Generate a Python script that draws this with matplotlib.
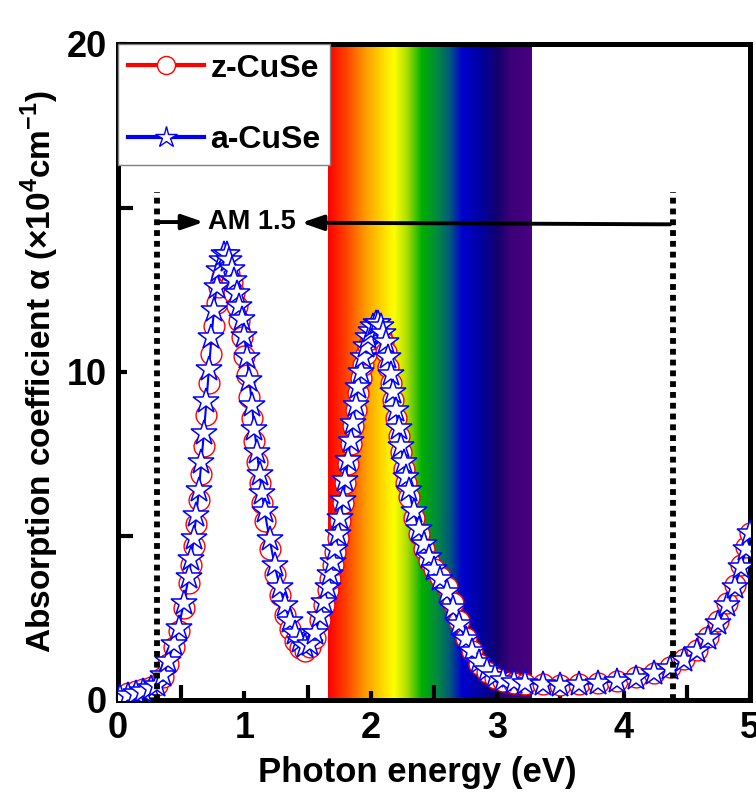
import numpy as np
import matplotlib
matplotlib.use("Agg")
import matplotlib.pyplot as plt
from matplotlib.colors import LinearSegmentedColormap
from matplotlib.lines import Line2D

plt.rcParams['font.family'] = ['Liberation Sans', 'DejaVu Sans']
plt.rcParams['font.weight'] = 'bold'
plt.rcParams['mathtext.fontset'] = 'custom'
plt.rcParams['mathtext.rm'] = 'Liberation Sans:bold'
plt.rcParams['mathtext.bf'] = 'Liberation Sans:bold'

# photon energy (eV)
energy = [0.02, 0.08, 0.14, 0.20, 0.26, 0.31, 0.36, 0.40, 0.44, 0.48, 0.52,
          0.56, 0.58, 0.60, 0.62, 0.64, 0.66, 0.68, 0.70, 0.72, 0.74, 0.76, 0.78,
          0.80, 0.82, 0.84, 0.86, 0.88, 0.90, 0.92, 0.94, 0.96, 0.98, 1.00, 1.02,
          1.04, 1.06, 1.08, 1.10, 1.12, 1.14, 1.16,
          1.20, 1.24, 1.28, 1.32, 1.36, 1.40, 1.44, 1.48, 1.52, 1.56, 1.60, 1.63,
          1.66, 1.68, 1.70, 1.72, 1.74, 1.76, 1.78, 1.80, 1.82, 1.84, 1.86, 1.88,
          1.90, 1.92, 1.94, 1.96, 1.98, 2.00, 2.02, 2.04, 2.06, 2.08, 2.10, 2.12,
          2.14, 2.16, 2.18, 2.20, 2.22, 2.24, 2.26, 2.28, 2.30,
          2.34, 2.38, 2.42, 2.46, 2.50,
          2.55, 2.60, 2.65, 2.70, 2.75, 2.80, 2.86, 2.92, 2.98, 3.05, 3.13, 3.22,
          3.36, 3.50, 3.65, 3.80, 3.95, 4.10, 4.24, 4.37, 4.48, 4.58, 4.67, 4.75,
          4.82, 4.88, 4.93, 4.97, 5.00]

# absorption coefficient (x10^4 cm^-1)
z_cuse = [0.12, 0.20, 0.28, 0.33, 0.38, 0.45, 0.70, 1.10, 1.60, 2.10, 2.80,
          3.55, 4.10, 4.70, 5.35, 6.10, 6.90, 7.75, 8.70, 9.65, 10.55, 11.4, 12.1,
          12.6, 12.9, 13.1, 13.1, 13.0, 12.75, 12.4, 12.0, 11.55, 11.05, 10.5, 9.90,
          9.25, 8.60, 7.90, 7.25, 6.60, 6.00, 5.45,
          4.60, 3.85, 3.20, 2.60, 2.15, 1.80, 1.58, 1.50, 1.60, 1.90, 2.45, 2.90,
          3.35, 3.70, 4.10, 4.50, 4.95, 5.45, 6.00, 6.60, 7.20, 7.80, 8.35, 8.85,
          9.35, 9.80, 10.2, 10.55, 10.8, 11.0, 11.15, 11.2, 11.2, 11.1, 10.9, 10.6,
          10.15, 9.65, 9.15, 8.60, 8.05, 7.55, 7.05, 6.60, 6.20,
          5.55, 5.05, 4.60, 4.25, 4.00,
          3.75, 3.45, 2.95, 2.40, 1.90, 1.50, 1.10, 0.85, 0.68, 0.58, 0.53, 0.50,
          0.48, 0.47, 0.49, 0.52, 0.59, 0.69, 0.83, 1.00, 1.25, 1.52, 1.92, 2.40,
          2.95, 3.50, 4.10, 4.65, 5.10]

a_cuse = [0.10, 0.15, 0.22, 0.28, 0.35, 0.45, 0.75, 1.20, 1.70, 2.20, 2.95,
          3.75, 4.30, 4.95, 5.65, 6.40, 7.25, 8.15, 9.10, 10.1, 11.05, 11.9, 12.6,
          13.1, 13.4, 13.6, 13.6, 13.4, 13.15, 12.8, 12.4, 12.0, 11.6, 11.1, 10.45,
          9.75, 9.00, 8.25, 7.55, 6.90, 6.30, 5.75,
          4.90, 4.10, 3.45, 2.90, 2.40, 2.05, 1.80, 1.65, 1.72, 2.05, 2.55, 3.00,
          3.45, 3.85, 4.20, 4.60, 5.05, 5.55, 6.10, 6.70, 7.30, 7.90, 8.45, 9.00,
          9.55, 10.0, 10.45, 10.8, 11.05, 11.25, 11.4, 11.5, 11.5, 11.4, 11.2, 10.9,
          10.45, 9.95, 9.40, 8.85, 8.30, 7.75, 7.25, 6.80, 6.40,
          5.75, 5.20, 4.75, 4.35, 4.00,
          3.70, 3.30, 2.80, 2.30, 1.85, 1.50, 1.15, 0.90, 0.72, 0.62, 0.56, 0.52,
          0.48, 0.47, 0.48, 0.51, 0.58, 0.68, 0.81, 0.98, 1.22, 1.50, 1.90, 2.35,
          2.90, 3.45, 4.05, 4.60, 5.10]

# visible spectrum band
band = (1.66, 3.27)
band_pos = [1.66, 1.80, 1.95, 2.10, 2.18, 2.28, 2.40, 2.52, 2.62, 2.72, 2.87, 3.00, 3.10, 3.27]
band_col = ['#ff0000', '#ff4000', '#ff9900', '#ffdd00', '#ffff00', '#b0e000', '#00b000',
            '#008a40', '#005a7a', '#0000d0', '#0000a0', '#14006e', '#3c0078', '#480080']

am_left, am_right = 0.31, 4.39
am_top = 15.5

fig = plt.figure(figsize=(7.56, 7.99), dpi=100)
ax = fig.add_axes([0.156, 0.124, 0.836, 0.821])

stops = [(p - band[0]) / (band[1] - band[0]) for p in band_pos]
cmap = LinearSegmentedColormap.from_list('vis', list(zip(stops, band_col)))
grad = np.linspace(0, 1, 512).reshape(1, -1)
ax.imshow(grad, cmap=cmap, aspect='auto', extent=[band[0], band[1], 0, 20], zorder=0)

ax.plot(energy, z_cuse, color='red', lw=1.5, marker='o', ms=15, mfc='white',
        mec='red', mew=1.0, zorder=2)
ax.plot(energy, a_cuse, color='blue', lw=1.5, marker='*', ms=19, mfc='white',
        mec='blue', mew=1.1, zorder=3)

# AM 1.5 range
for xv in (am_left, am_right):
    ax.plot([xv, xv], [0, am_top], color='black', lw=4.2, ls=(0, (1, 0.85)), zorder=5)
ax.annotate('', xy=(0.70, 14.57), xytext=(am_left, 14.57),
            arrowprops=dict(arrowstyle='-|>,head_length=1.3,head_width=0.45', color='black', lw=2.8),
            zorder=6)
ax.annotate('', xy=(1.43, 14.55), xytext=(am_right, 14.5),
            arrowprops=dict(arrowstyle='-|>,head_length=1.3,head_width=0.45', color='black', lw=2.8),
            zorder=6)
ax.text(1.06, 14.57, 'AM 1.5', fontsize=19.5, fontweight='bold', ha='center', va='center', zorder=6)

ax.set_xlim(0, 5)
ax.set_ylim(0, 20)
ax.set_xticks([0, 1, 2, 3, 4, 5])
ax.set_xticks([0.5, 1.5, 2.5, 3.5, 4.5], minor=True)
ax.set_yticks([0, 10, 20])
ax.set_yticks([5, 15], minor=True)
ax.tick_params(which='both', direction='in', width=3, labelsize=26, top=False, right=False)
ax.tick_params(which='major', length=6.5, pad=8)
ax.tick_params(which='minor', length=11)
for s in ax.spines.values():
    s.set_linewidth(3.6)

ax.set_xlabel('Photon energy (eV)', fontsize=25, fontweight='bold')
ax.xaxis.set_label_coords(0.473, -0.085)
ax.set_ylabel(r'Absorption coefficient α (×10$^{4}$cm$^{-1}$)', fontsize=24, fontweight='bold')

handles = [Line2D([], [], color='red', lw=3, marker='o', ms=13, mfc='white', mec='red', mew=1),
           Line2D([], [], color='blue', lw=3, marker='*', ms=16, mfc='white', mec='blue', mew=1)]
leg = ax.legend(handles, ['z-CuSe', 'a-CuSe'], loc='upper left', bbox_to_anchor=(0, 1),
                borderaxespad=0, borderpad=0.3, fontsize=23, frameon=True, fancybox=False,
                handlelength=2.4, handletextpad=0.2, labelspacing=1.3, framealpha=1)
leg.get_frame().set_edgecolor('#808080')
leg.get_frame().set_linewidth(1)
leg.set_zorder(10)

fig.savefig('out.png', dpi=100)
